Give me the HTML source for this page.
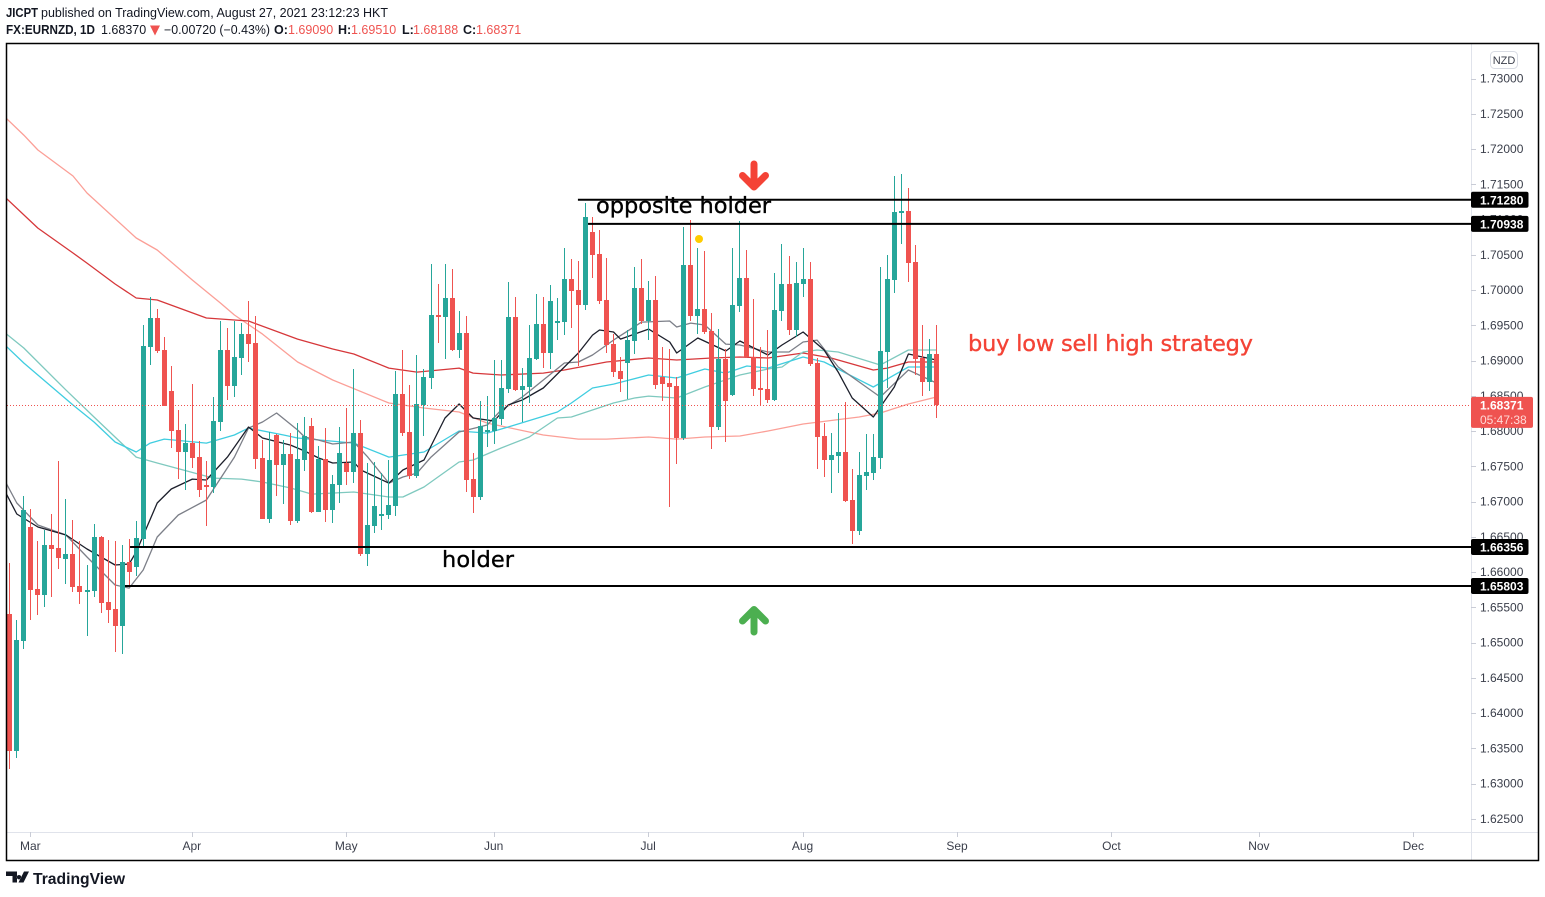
<!DOCTYPE html>
<html lang="en">
<head>
<meta charset="utf-8">
<title>FX:EURNZD 1D chart</title>
<style>
html,body{margin:0;padding:0;background:#fff;width:1545px;height:897px;overflow:hidden}
svg{display:block;font-family:"Liberation Sans",sans-serif}
.hdr{font-size:12.5px;fill:#131722}
.hb{font-weight:bold}
.hr{fill:#ef5350}
.tick{font-size:12px;fill:#3a3e4a}
.note{font-family:"DejaVu Sans",sans-serif;font-size:22.5px;stroke-width:0.35px}
</style>
</head>
<body>
<svg id="chart" xmlns="http://www.w3.org/2000/svg" width="1545" height="897" viewBox="0 0 1545 897">
  <defs><clipPath id="pane"><rect x="7" y="44" width="1464" height="788"/></clipPath></defs>
  <rect x="0" y="0" width="1545" height="897" fill="#fff"/>

  <g>
    <text class="hdr hb" x="6" y="17" textLength="32" lengthAdjust="spacingAndGlyphs">JICPT</text>
    <text class="hdr" x="41" y="17" textLength="347" lengthAdjust="spacingAndGlyphs">published on TradingView.com, August 27, 2021 23:12:23 HKT</text>
    <text class="hdr hb" x="6" y="34" textLength="89" lengthAdjust="spacingAndGlyphs">FX:EURNZD, 1D</text>
    <text class="hdr" x="101" y="34">1.68370</text>
    <path d="M150 25.500h10l-5 10z" fill="#ef5350"/>
    <text class="hdr" x="164" y="34" textLength="106" lengthAdjust="spacingAndGlyphs">−0.00720 (−0.43%)</text>
    <text class="hdr hb" x="274" y="34">O:</text>
    <text class="hdr hr" x="288" y="34">1.69090</text>
    <text class="hdr hb" x="338" y="34">H:</text>
    <text class="hdr hr" x="351" y="34">1.69510</text>
    <text class="hdr hb" x="402" y="34">L:</text>
    <text class="hdr hr" x="413" y="34">1.68188</text>
    <text class="hdr hb" x="463" y="34">C:</text>
    <text class="hdr hr" x="476" y="34">1.68371</text>
  </g>

  <g id="axes"></g>
  <g id="lines" clip-path="url(#pane)" fill="none"></g>
  <g id="candles" clip-path="url(#pane)"></g>
  <g id="levels"></g>

  <g>
    <text class="note" x="596" y="213" fill="#000" stroke="#000" textLength="175">opposite holder</text>
    <text class="note" x="442" y="567" fill="#000" stroke="#000" textLength="72">holder</text>
    <text class="note" x="968" y="351" fill="#f44336" stroke="#f44336" textLength="285">buy low sell high strategy</text>
    <path d="M754 164V186M742.500 175.500L754 187L765.500 175.500" fill="none" stroke="#f44336" stroke-width="7" stroke-linecap="round" stroke-linejoin="round"/>
    <path d="M754 632V610M742.500 621L754 609.500L765.500 621" fill="none" stroke="#4caf50" stroke-width="7" stroke-linecap="round" stroke-linejoin="round"/>
    <circle cx="699" cy="239" r="4" fill="#ffcc00"/>
  </g>

  <g id="priceMarkers"></g>

  <rect x="1490.500" y="51.500" width="27" height="17" rx="4" fill="#fff" stroke="#d8dbe3"/>
  <text x="1504" y="64" text-anchor="middle" font-size="11" fill="#3a3e4a">NZD</text>

  <rect x="6.500" y="43.500" width="1532" height="817" fill="none" stroke="#000" stroke-width="1.500"/>

  <g>
    <path d="M6 871.500h11v11h-4.500v-6.500H6zM19 875a2.200 2.200 0 1 0 0.010 0zM24 871.500h5l-5.500 11h-5z" fill="#131722"/>
    <text x="33" y="884" font-size="16" font-weight="bold" fill="#131722" textLength="92" lengthAdjust="spacingAndGlyphs">TradingView</text>
  </g>
</svg>

<script>
// ---- Chart data ----
const priceTicks = [1.73,1.725,1.72,1.715,1.71,1.705,1.70,1.695,1.69,1.685,1.68,1.675,1.67,1.665,1.66,1.655,1.65,1.645,1.64,1.635,1.63,1.625];
const monthLabels = ["Mar","Apr","May","Jun","Jul","Aug","Sep","Oct","Nov","Dec"];
const monthBars = [3,26,48,69,91,113,135,157,178,200];

const opens = [1.65406,1.63463,1.65023,1.66640,1.65760,1.65676,1.66385,1.66342,1.66186,1.66257,
1.65803,1.65718,1.65732,1.66498,1.65576,1.65477,1.65236,1.66144,1.66073,1.66469,
1.69192,1.69603,1.69150,1.68568,1.68015,1.67704,1.67830,1.67632,1.67235,1.67207,
1.68129,1.69150,1.68639,1.69036,1.69376,1.69249,1.67618,1.66753,1.67944,1.67519,
1.67675,1.66725,1.67590,1.68072,1.66852,1.67604,1.66881,1.67235,1.67547,1.67420,
1.67972,1.66257,1.66654,1.66796,1.66810,1.66938,1.68526,1.67987,1.67363,1.68370,
1.68753,1.69646,1.69618,1.69887,1.69150,1.69391,1.67320,1.67065,1.67987,1.68001,
1.68171,1.68597,1.69618,1.68582,1.68625,1.69022,1.69518,1.69107,1.69532,1.69546,
1.70156,1.70001,1.69788,1.70823,1.70511,1.69859,1.69234,1.68852,1.68965,1.69277,
1.70029,1.69561,1.69859,1.68767,1.68682,1.68639,1.67902,1.70355,1.69632,1.69731,
1.69419,1.68058,1.69022,1.68511,1.69774,1.70170,1.69051,1.68611,1.68597,1.68441,
1.69703,1.70086,1.69433,1.70086,1.70156,1.68965,1.67930,1.67590,1.67647,1.67704,
1.67023,1.66583,1.67363,1.67405,1.67618,1.69122,1.70142,1.71093,1.71121,1.70398,
1.69036,1.68696,1.69090];

const highs = [1.66129,1.65321,1.67079,1.66895,1.66441,1.66597,1.66824,1.67576,1.67037,1.66739,
1.66441,1.66101,1.66682,1.66512,1.66455,1.66441,1.66385,1.66469,1.66725,1.69504,
1.69902,1.69731,1.69334,1.68923,1.68299,1.68100,1.68667,1.67859,1.67576,1.68483,
1.69561,1.69462,1.69561,1.69532,1.69845,1.69632,1.67873,1.67987,1.67958,1.67873,
1.67972,1.68114,1.68200,1.68186,1.67788,1.68043,1.67377,1.68058,1.68328,1.68880,
1.68157,1.67547,1.67562,1.67405,1.67590,1.68852,1.69150,1.68653,1.69079,1.68880,
1.70369,1.70086,1.70369,1.70298,1.69703,1.69632,1.67689,1.68427,1.68498,1.69008,
1.69008,1.70114,1.69902,1.68894,1.69504,1.69944,1.69902,1.70071,1.69887,1.70596,
1.70440,1.70412,1.71234,1.71036,1.70851,1.70454,1.69376,1.69051,1.69433,1.70327,
1.70440,1.70128,1.70199,1.69192,1.69164,1.68767,1.70894,1.70993,1.70596,1.70554,
1.69675,1.69447,1.69164,1.70596,1.70979,1.70568,1.69873,1.69192,1.69433,1.70241,
1.70653,1.70483,1.70398,1.70596,1.70398,1.69036,1.68114,1.67972,1.68256,1.68412,
1.67462,1.67704,1.67958,1.67958,1.70327,1.70497,1.71617,1.71646,1.71447,1.70639,
1.69504,1.69305,1.69510];

const lows = [1.63207,1.63363,1.64910,1.65321,1.65392,1.65506,1.65648,1.66044,1.65831,1.65718,
1.65548,1.65094,1.65648,1.65420,1.65278,1.64868,1.64839,1.65803,1.65945,1.66371,
1.68937,1.69107,1.68356,1.67760,1.67320,1.67164,1.67476,1.67065,1.66654,1.67122,
1.68001,1.68441,1.68483,1.68795,1.68980,1.67462,1.66753,1.66696,1.67079,1.66966,
1.66668,1.66696,1.67434,1.66838,1.66852,1.66711,1.66696,1.66980,1.67235,1.67263,
1.66229,1.66087,1.66554,1.66597,1.66753,1.66796,1.67930,1.67320,1.67334,1.67930,
1.68597,1.69249,1.69022,1.69136,1.69036,1.67136,1.66838,1.67023,1.67774,1.67817,
1.68086,1.68540,1.68568,1.68129,1.68398,1.69008,1.68894,1.68880,1.69291,1.69362,
1.69462,1.68923,1.69717,1.70170,1.69802,1.69107,1.68767,1.68554,1.68455,1.69093,
1.69518,1.69291,1.68597,1.68427,1.66924,1.67533,1.67873,1.69561,1.69376,1.69376,
1.67746,1.68015,1.67845,1.68498,1.69689,1.69036,1.68498,1.68370,1.68398,1.68427,
1.69561,1.69362,1.69334,1.69902,1.68923,1.67462,1.67349,1.67122,1.67405,1.66995,
1.66399,1.66526,1.67164,1.67306,1.67462,1.68611,1.69958,1.70653,1.70114,1.68795,
1.68497,1.68568,1.68188];

const closes = [1.63463,1.65037,1.66881,1.65746,1.65676,1.66385,1.66328,1.66200,1.66257,1.65789,
1.65718,1.65746,1.66498,1.65562,1.65463,1.65236,1.66144,1.66002,1.66484,1.69206,
1.69603,1.69136,1.68356,1.68001,1.67704,1.67830,1.67618,1.67164,1.67207,1.68143,
1.69150,1.68639,1.69051,1.69376,1.69234,1.67604,1.66753,1.67590,1.67519,1.67675,
1.66725,1.67604,1.67930,1.66852,1.67604,1.66881,1.67249,1.67689,1.67420,1.67972,
1.66257,1.66668,1.66938,1.66824,1.66952,1.68526,1.67972,1.67363,1.68384,1.68767,
1.69646,1.69618,1.69887,1.69150,1.69391,1.67306,1.67065,1.68072,1.68015,1.68186,
1.68611,1.69618,1.68582,1.68639,1.69036,1.69518,1.69107,1.69845,1.69561,1.70156,
1.69987,1.69788,1.71036,1.70497,1.69845,1.69221,1.68837,1.68738,1.69291,1.70029,
1.69561,1.69859,1.68653,1.68667,1.68625,1.67902,1.70355,1.69632,1.69731,1.69405,
1.68058,1.69022,1.68427,1.69788,1.70170,1.69051,1.68597,1.68582,1.68441,1.69717,
1.70086,1.69433,1.70100,1.70156,1.68951,1.67916,1.67590,1.67661,1.67704,1.67009,
1.66583,1.67377,1.67420,1.67632,1.69136,1.70156,1.71107,1.71121,1.70383,1.69022,
1.68696,1.69093,1.68371];

// Moving-average readings: bar numbers and the value read at each bar
const maBlackBars = [-1,1,4,8,11,15,17,18,21,23,26,28,31,34,36,40,42,44,46,49,50,54,56,59,62,64,66,69,71,73,76,81,83,84,86,87,91,94,95,98,102,104,108,110,113,116,118,120,123,126,128,132];
const maBlack = [1.67207,1.66824,1.66640,1.66526,1.66328,1.66101,1.66115,1.66285,1.66980,1.67179,1.67320,1.67306,1.67632,1.68058,1.67902,1.67802,1.67718,1.67618,1.67547,1.67562,1.67448,1.67263,1.67448,1.67590,1.68186,1.68384,1.68186,1.68143,1.68370,1.68441,1.68611,1.69107,1.69362,1.69433,1.69405,1.69305,1.69447,1.69263,1.69107,1.69320,1.69136,1.69277,1.69079,1.69221,1.69405,1.69150,1.68837,1.68469,1.68200,1.68625,1.69093,1.69008];

const maGrayBars = [-1,1,4,8,11,15,17,19,21,24,28,32,34,36,38,41,42,44,46,49,51,54,56,58,60,64,68,70,73,76,79,81,83,86,90,94,95,97,99,102,104,108,111,113,115,118,122,124,128,132];
const maGray = [1.67349,1.66980,1.66668,1.66526,1.66214,1.65817,1.65774,1.66030,1.66498,1.66810,1.67023,1.67632,1.68043,1.68129,1.68256,1.68015,1.67916,1.67873,1.67817,1.67845,1.67632,1.67263,1.67349,1.67405,1.67632,1.67987,1.68086,1.68299,1.68483,1.68724,1.68965,1.68980,1.69079,1.69291,1.69546,1.69561,1.69476,1.69532,1.69504,1.69234,1.69221,1.69122,1.69122,1.69263,1.69291,1.68909,1.68625,1.68483,1.68866,1.68682];

const maCyanBars = [-1,2,9,12,15,18,20,22,28,32,34,39,41,49,54,59,64,68,71,78,80,83,86,91,95,99,102,105,108,113,116,123,128,132];
const maCyan = [1.69249,1.68965,1.68370,1.68129,1.67845,1.67704,1.67830,1.67887,1.67830,1.67944,1.68043,1.67944,1.67902,1.67830,1.67632,1.67704,1.68001,1.67972,1.68058,1.68271,1.68398,1.68611,1.68667,1.68795,1.68753,1.68880,1.68823,1.68923,1.68894,1.69051,1.68980,1.68625,1.68909,1.68909];

const maTealBars = [-1,2,8,12,18,21,29,33,36,40,42,43,49,54,56,59,61,64,66,70,74,78,80,86,89,91,95,99,104,108,110,113,115,118,124,128,132];
const maTeal = [1.69419,1.69178,1.68582,1.68200,1.67632,1.67547,1.67334,1.67320,1.67278,1.67193,1.67136,1.67107,1.67136,1.67065,1.67065,1.67207,1.67349,1.67562,1.67590,1.67760,1.67916,1.68186,1.68200,1.68398,1.68469,1.68497,1.68469,1.68625,1.68795,1.68880,1.68909,1.69122,1.69150,1.69122,1.68937,1.69150,1.69150];

const maRedBars = [-1,4,9,11,15,18,21,28,34,41,46,49,54,58,64,66,70,76,79,85,91,95,100,104,108,113,117,123,125,128,132];
const maRed = [1.71348,1.70879,1.70525,1.70383,1.70086,1.69887,1.69859,1.69604,1.69561,1.69305,1.69164,1.69093,1.68894,1.68837,1.68894,1.68823,1.68795,1.68823,1.68866,1.68980,1.69036,1.69008,1.69036,1.69051,1.69036,1.69107,1.69036,1.68866,1.68894,1.68980,1.68980];

const maSalmonBars = [-1,2,4,9,11,18,21,26,30,32,36,41,46,54,59,64,68,76,81,85,91,95,99,104,108,113,121,124,128,132];
const maSalmon = [1.72482,1.72198,1.71986,1.71617,1.71376,1.70738,1.70568,1.70142,1.69816,1.69646,1.69376,1.68980,1.68724,1.68398,1.68328,1.68271,1.68114,1.67944,1.67887,1.67887,1.67916,1.67887,1.67916,1.67930,1.68001,1.68100,1.68200,1.68256,1.68384,1.68483];

// Drawn horizontal levels: price and the bar at which each line begins
const levelPrices = [1.71280,1.70938,1.66356,1.65803];
const levelStartBars = [81,82.44,17.2,16.48];
const lastPrice = 1.68371;
const countdown = "05:47:38";

// ---- Axis functions ----
const NS = "http://www.w3.org/2000/svg";
function yScale(p){ return 78.5 + (1.73 - p) * 7052; }
function xScale(i){ return 9.3 + 7.02 * i; }
function make(tag, attrs, parent, text){
  const el = document.createElementNS(NS, tag);
  for (const k in attrs) el.setAttribute(k, attrs[k]);
  if (text !== undefined) el.textContent = text;
  parent.appendChild(el);
  return el;
}

const axes = document.getElementById("axes");
const axisV = make("line", {x1:1471.5,x2:1471.5,y1:44,y2:860,stroke:"#e0e3eb"}, axes);


const axisH = make("line", {x1:7,x2:1538,y1:832.5,y2:832.5,stroke:"#e0e3eb"}, axes);



priceTicks.forEach(function(p){
  const y = yScale(p);
  const mark = make("line", {x1:1471,x2:1476,y1:Math.round(y)+0.5,y2:Math.round(y)+0.5,stroke:"#c9ccd6"}, axes);
  
  
  const label = make("text", {x:1480,y:y+4,"class":"tick"}, axes, p.toFixed(5));
  
  
});

monthLabels.forEach(function(m, k){
  const x = xScale(monthBars[k]);
  const mark = make("line", {x1:Math.round(x)+0.5,x2:Math.round(x)+0.5,y1:832,y2:837,stroke:"#c9ccd6"}, axes);
  
  
  const label = make("text", {x:x,y:850,"class":"tick","text-anchor":"middle"}, axes, m);
  
  
});

// ---- Moving averages ----
const linesGroup = document.getElementById("lines");
function drawMA(values, bars, color, name){
  const pts = values.map(function(v, k){ return (xScale(bars[k]) + 0.5).toFixed(1) + "," + yScale(v).toFixed(1); }).join(" ");
  const line = make("polyline", {points:pts, stroke:color, "stroke-width":1.3, "stroke-linejoin":"round"}, linesGroup);
  
  
}
drawMA(maSalmon, maSalmonBars, "#fb9f97", "ma-salmon-line");
drawMA(maRed, maRedBars, "#d6373a", "ma-red-line");
drawMA(maTeal, maTealBars, "#7fc9bf", "ma-teal-line");
drawMA(maCyan, maCyanBars, "#3fcde0", "ma-cyan-line");
drawMA(maGray, maGrayBars, "#7c7f88", "ma-gray-line");
drawMA(maBlack, maBlackBars, "#1c1f2b", "ma-black-line");

// ---- Candles ----
const candleGroup = document.getElementById("candles");
opens.forEach(function(o, i){
  const c = closes[i];
  const color = c >= o ? "#26a69a" : "#ef5350";
  const cx = Math.round(xScale(i));
  const hi = Math.round(yScale(highs[i]));
  const lo = Math.round(yScale(lows[i]));
  const wick = make("rect", {x:cx, y:hi, width:1, height:Math.max(1, lo-hi), fill:color}, candleGroup);
  
  
  const top = Math.round(yScale(Math.max(o, c)));
  const bot = Math.round(yScale(Math.min(o, c)));
  const body = make("rect", {x:cx-2, y:top, width:5, height:Math.max(1, bot-top), fill:color}, candleGroup);
  
  
});

// ---- Last price line and levels ----
const levels = document.getElementById("levels");
const lastY = Math.round(yScale(lastPrice)) + 0.5;
const lastLine = make("line", {x1:7,x2:1471,y1:lastY,y2:lastY,stroke:"#ef5350","stroke-width":1,"stroke-dasharray":"1 2"}, levels);



const markers = document.getElementById("priceMarkers");
levelPrices.forEach(function(p, k){
  const y = yScale(p);
  const line = make("line", {x1:xScale(levelStartBars[k]),x2:1471,y1:y,y2:y,stroke:"#000","stroke-width":2}, levels);
  
  
  const bg = make("rect", {x:1471,y:y-8,width:57.5,height:16,rx:2,fill:"#000"}, markers);
  
  
  const label = make("text", {x:1480,y:y+4.5,"font-size":12,"font-weight":"bold",fill:"#fff"}, markers, p.toFixed(5));
  
  
});

const lastBg = make("rect", {x:1471,y:yScale(lastPrice)-8,width:62,height:31,rx:2,fill:"#ef5350"}, markers);


const lastLabel = make("text", {x:1480,y:yScale(lastPrice)+4.5,"font-size":12,"font-weight":"bold",fill:"#fff"}, markers, lastPrice.toFixed(5));


const countLabel = make("text", {x:1480,y:yScale(lastPrice)+19,"font-size":12,fill:"#ffd9d6"}, markers, countdown);


</script>
</body>
</html>
